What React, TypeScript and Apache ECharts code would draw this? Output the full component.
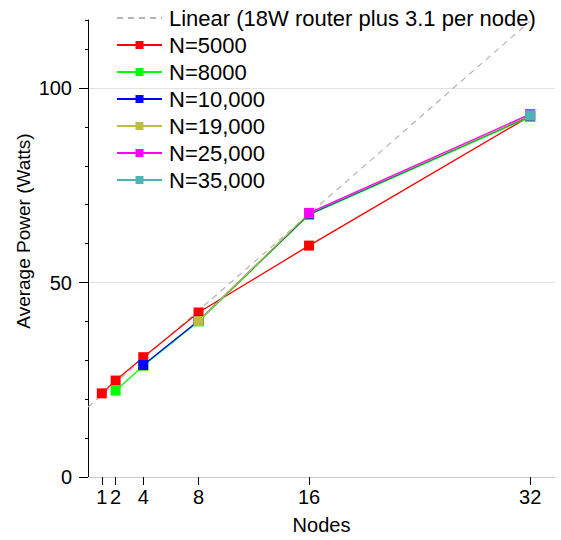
import React, { useEffect, useRef } from "react";
import * as echarts from "echarts";

const xTicks = [1, 2, 4, 8, 16, 32];
const yAxisTitle = "Average Power (Watts)";
const xAxisTitle = "Nodes";
const linearLabel = "Linear (18W router plus 3.1 per node)";
const linearData: [number, number][] = [[0, 18], [32, 117.2]];

const seriesNames = ["N=5000", "N=8000", "N=10,000", "N=19,000", "N=25,000", "N=35,000"];
const seriesColors = ["#ff0000", "#00ff00", "#0000ff", "#bdbd45", "#ff00ff", "#4db3b3"];
const n5000: [number, number][] = [[1, 21.5], [2, 24.8], [4, 30.8], [8, 42.3], [16, 59.5], [32, 92.8]];
const n8000: [number, number][] = [[2, 22.2], [4, 28.6], [8, 40.0], [16, 67.4], [32, 92.6]];
const n10000: [number, number][] = [[4, 28.8], [8, 40.2], [16, 67.6], [32, 92.9]];
const n19000: [number, number][] = [[8, 40.1], [16, 67.8], [32, 93.0]];
const n25000: [number, number][] = [[16, 67.9], [32, 93.3]];
const n35000: [number, number][] = [[32, 93.0]];
const seriesData = [n5000, n8000, n10000, n19000, n25000, n35000];

const yMajor = [0, 50, 100];

export default function App() {
  const ref = useRef<HTMLDivElement>(null);
  useEffect(() => {
    if (!ref.current) return;
    const chart = echarts.init(ref.current, undefined, { renderer: "svg" });
    const font = "'Liberation Sans', Arial, Helvetica, sans-serif";
    const yMax = 117.5;
    const xMax = 33.8;
    chart.setOption({
      animation: false,
      textStyle: { fontFamily: font },
      grid: { left: 88, right: 6, top: 20, bottom: 61 },
      graphic: [
        {
          type: "text",
          x: 23,
          y: 231,
          rotation: Math.PI / 2,
          style: {
            text: yAxisTitle,
            fontFamily: font,
            fontSize: 19,
            fill: "#000",
            align: "center",
            verticalAlign: "middle",
          },
        },
      ],
      legend: {
        orient: "vertical",
        left: 111,
        top: 2,
        itemWidth: 45,
        itemHeight: 10,
        itemGap: 5,
        textStyle: { fontFamily: font, fontSize: 22, color: "#000", lineHeight: 22, padding: [0, 0, 0, 2] },
        data: [{ name: linearLabel, itemStyle: { opacity: 0 } }, ...seriesNames],
      },
      xAxis: {
        type: "value",
        min: 0,
        max: xMax,
        name: xAxisTitle,
        nameLocation: "middle",
        nameGap: 38,
        nameTextStyle: { fontFamily: font, fontSize: 20, color: "#000" },
        axisLine: { show: true, lineStyle: { color: "#cccccc", width: 1 } },
        axisTick: { show: true, length: 8, customValues: xTicks, lineStyle: { color: "#000" } },
        axisLabel: { customValues: xTicks, margin: 10, fontSize: 20, color: "#000", fontFamily: font },
        splitLine: { show: false },
      },
      yAxis: [
        {
          type: "value",
          min: 0,
          max: yMax,
          interval: 10,
          position: "left",
          axisLine: { show: true, lineStyle: { color: "#000", width: 1 } },
          axisTick: { show: true, length: 3, lineStyle: { color: "#000" } },
          axisLabel: { show: false },
          splitLine: { show: false },
        },
        {
          type: "value",
          min: 0,
          max: yMax,
          position: "left",
          axisLine: { show: false },
          axisTick: { show: true, length: 9, customValues: yMajor, lineStyle: { color: "#000" } },
          axisLabel: { customValues: yMajor, margin: 16, fontSize: 20, color: "#000", fontFamily: font },
          splitLine: { show: false },
        },
      ],
      series: [
        {
          name: linearLabel,
          type: "line",
          data: linearData,
          showSymbol: false,
          symbol: "none",
          color: "#b3b3b3",
          lineStyle: { type: [6, 5], width: 1.2, color: "#b3b3b3" },
          markLine: {
            silent: true,
            symbol: "none",
            label: { show: false },
            lineStyle: { type: "solid", color: "#e3e3e3", width: 1 },
            data: [{ yAxis: 50 }, { yAxis: 100 }],
            z: 0,
          },
          z: 1,
        },
        ...seriesNames.map((name, i) => ({
          name,
          type: "line",
          data: seriesData[i],
          symbol: "rect",
          symbolSize: 10,
          showSymbol: true,
          color: seriesColors[i],
          itemStyle: { color: seriesColors[i] },
          lineStyle: { width: 1.3, color: seriesColors[i] },
          z: 2 + i,
        })),
      ],
    });
    return () => chart.dispose();
  }, []);
  return <div ref={ref} style={{ width: 561, height: 540, position: "absolute", left: 0, top: 0 }} />;
}
